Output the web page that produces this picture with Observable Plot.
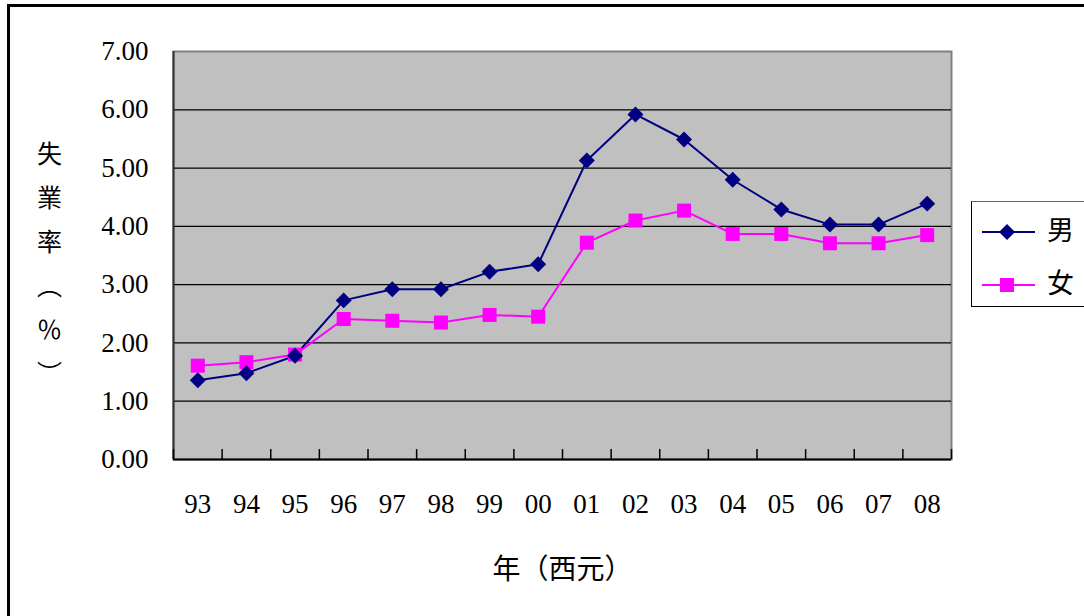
<!DOCTYPE html>
<html>
<head>
<meta charset="utf-8">
<script src="https://cdn.jsdelivr.net/npm/d3@7"></script>
<script src="https://cdn.jsdelivr.net/npm/@observablehq/plot@0.6"></script>
<style>
  html, body { margin: 0; padding: 0; background: #fff; overflow: hidden; }
  #wrap { position: relative; width: 1084px; height: 616px; overflow: hidden; }
  #border { position: absolute; left: 7px; top: 4px; width: 1200px; height: 800px; border: 3px solid #000; box-sizing: border-box; }
  #chart { position: absolute; left: 0; top: 0; }
  #chart svg text { font-family: 'Liberation Serif', 'DejaVu Serif', serif; }
  #chart svg g.cjk text { font-family: 'Noto Sans CJK TC', sans-serif; }
  #legend { position: absolute; left: 971px; top: 201px; width: 200px; height: 106px; border: 1.5px solid #000; border-top-color: #666; background: #fff; box-sizing: border-box; }
  .item { position: absolute; left: 0; height: 30px; width: 200px; }
  .item svg { position: absolute; left: 9px; top: 0; }
  .item span { position: absolute; left: 75px; top: -3px; font-family: 'Noto Sans CJK TC', sans-serif; font-size: 27px; line-height: 30px; color: #000; }
</style>
</head>
<body>
<div id="wrap">
  <div id="border"></div>
  <div id="chart"></div>
  <div id="legend"></div>
</div>
<script>
// Data
const years = ["93","94","95","96","97","98","99","00","01","02","03","04","05","06","07","08"];
const maleRate   = [1.36, 1.48, 1.78, 2.73, 2.92, 2.92, 3.22, 3.35, 5.13, 5.92, 5.49, 4.80, 4.29, 4.03, 4.03, 4.39];
const femaleRate = [1.61, 1.67, 1.80, 2.41, 2.38, 2.35, 2.48, 2.45, 3.72, 4.10, 4.27, 3.87, 3.87, 3.71, 3.71, 3.85];
const yTicks = [0, 1, 2, 3, 4, 5, 6, 7];
const seriesNames = ["男", "女"];
const seriesColors = ["#000080", "#FF00FF"];
const yTitle = "失\n業\n率\n︵\n％\n︶";
const xTitle = "年（西元）";

const male = years.map((y, i) => ({year: y, v: maleRate[i]}));
const female = years.map((y, i) => ({year: y, v: femaleRate[i]}));

const W = 1084, H = 616;
const mL = 173, mR = 133, mT = 51, mB = 157;
const step = (W - mL - mR) / years.length;

const chart = Plot.plot({
  width: W, height: H,
  marginLeft: mL, marginRight: mR, marginTop: mT, marginBottom: mB,
  style: {background: "transparent", color: "#000"},
  x: {type: "point", domain: years, padding: 0.5, round: false},
  y: {domain: [0, 7]},
  marks: [
    Plot.frame({fill: "#C0C0C0", stroke: "#808080", strokeWidth: 2}),
    Plot.ruleY(yTicks.filter(d => d > 0 && d < 7), {stroke: "#000", strokeWidth: 1.3}),
    Plot.ruleY([0], {stroke: "#000", strokeWidth: 2}),
    Plot.ruleX([years[0]], {dx: -step / 2, stroke: "#333", strokeWidth: 2}),
    Plot.ruleX(years, {dx: -step / 2, y1: 0, y2: 0.17, stroke: "#000", strokeWidth: 1.5}),
    Plot.ruleX([years[years.length - 1]], {dx: step / 2, y1: 0, y2: 0.17, stroke: "#000", strokeWidth: 1.5}),
    Plot.axisY({ticks: yTicks, tickFormat: d => d.toFixed(2), tickSize: 0, tickPadding: 25, fontSize: 27, label: null}),
    Plot.axisX({tickSize: 0, tickPadding: 34, fontSize: 27, label: null}),
    Plot.line(male, {x: "year", y: "v", stroke: seriesColors[0], strokeWidth: 2}),
    Plot.line(female, {x: "year", y: "v", stroke: seriesColors[1], strokeWidth: 2}),
    Plot.dot(female, {x: "year", y: "v", symbol: "square", r: 7.9, fill: seriesColors[1], stroke: "none"}),
    Plot.dot(male, {x: "year", y: "v", symbol: "diamond2", r: 7.2, fill: seriesColors[0], stroke: "none"}),
    Plot.text([yTitle], {frameAnchor: "left", dx: -124, dy: 3, fontSize: 25, lineHeight: 1.76, textAnchor: "middle", lineAnchor: "middle", className: "cjk"}),
    Plot.text([xTitle], {frameAnchor: "bottom", dy: 111, fontSize: 28, textAnchor: "middle", lineAnchor: "middle", className: "cjk"})
  ]
});
document.getElementById("chart").appendChild(chart);

// Legend
const legend = document.getElementById("legend");
const symbols = [
  `<polygon points="26,-8 34,0 26,8 18,0" transform="translate(0,15)" fill="${seriesColors[0]}"/>`,
  `<rect x="19" y="8" width="14" height="14" fill="${seriesColors[1]}"/>`
];
seriesNames.forEach((name, i) => {
  const div = document.createElement("div");
  div.className = "item";
  div.style.top = (i === 0 ? 15 : 68) + "px";
  div.innerHTML = `<svg width="56" height="30"><line x1="1" x2="54" y1="15" y2="15" stroke="${seriesColors[i]}" stroke-width="2"/>${symbols[i]}</svg><span>${name}</span>`;
  legend.appendChild(div);
});
</script>
</body>
</html>
